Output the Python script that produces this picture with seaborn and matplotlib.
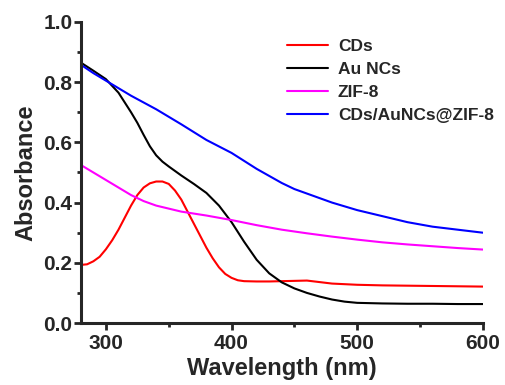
import matplotlib
matplotlib.use("Agg")
import matplotlib.pyplot as plt
import seaborn as sns
import pandas as pd
import numpy as np
from matplotlib.ticker import MultipleLocator

# Data
cds_wl = [280, 285, 290, 295, 300, 305, 310, 315, 320, 325, 330, 335, 340, 345, 350, 355, 360, 365, 370, 375,
          380, 385, 390, 395, 400, 405, 410, 420, 430, 440, 450, 460, 470, 480, 500, 520, 540, 560, 580, 600]
cds_abs = [0.193, 0.195, 0.205, 0.22, 0.245, 0.275, 0.31, 0.35, 0.39, 0.425, 0.45, 0.464, 0.47, 0.47, 0.462, 0.44,
           0.41, 0.37, 0.33, 0.29, 0.25, 0.215, 0.185, 0.163, 0.15, 0.142, 0.139, 0.138, 0.138, 0.139, 0.14, 0.141,
           0.136, 0.131, 0.127, 0.125, 0.124, 0.123, 0.122, 0.121]

au_wl = [280, 290, 300, 310, 320, 325, 330, 335, 340, 345, 350, 360, 370, 380, 390, 400, 410, 420, 430, 440,
         450, 460, 470, 480, 490, 500, 520, 540, 560, 580, 600]
au_abs = [0.865, 0.838, 0.81, 0.765, 0.70, 0.665, 0.625, 0.587, 0.557, 0.536, 0.52, 0.49, 0.462, 0.432, 0.39,
          0.335, 0.27, 0.21, 0.165, 0.135, 0.115, 0.10, 0.088, 0.078, 0.071, 0.067, 0.065, 0.064, 0.064, 0.063,
          0.063]

zif_wl = [280, 290, 300, 310, 320, 330, 340, 350, 360, 380, 400, 420, 440, 460, 480, 500, 520, 540, 560, 580, 600]
zif_abs = [0.525, 0.50, 0.475, 0.45, 0.425, 0.405, 0.39, 0.38, 0.37, 0.357, 0.342, 0.325, 0.31, 0.298, 0.287,
           0.277, 0.268, 0.261, 0.255, 0.249, 0.244]

comp_wl = [280, 290, 300, 310, 320, 340, 360, 380, 400, 420, 440, 450, 460, 480, 500, 520, 540, 560, 580, 600]
comp_abs = [0.858, 0.83, 0.805, 0.78, 0.755, 0.71, 0.66, 0.608, 0.565, 0.512, 0.465, 0.445, 0.43, 0.40, 0.375,
            0.355, 0.335, 0.32, 0.31, 0.30]

labels = ["CDs", "Au NCs", "ZIF-8", "CDs/AuNCs@ZIF-8"]
colors = ["#FF0000", "#000000", "#FF00FF", "#0000FF"]

frames = []
for lab, wl, ab in zip(labels, [cds_wl, au_wl, zif_wl, comp_wl], [cds_abs, au_abs, zif_abs, comp_abs]):
    frames.append(pd.DataFrame({"Wavelength": wl, "Absorbance": ab, "Sample": lab}))
df = pd.concat(frames, ignore_index=True)

sns.set_style("ticks")
plt.rcParams['font.family'] = ['Liberation Sans', 'DejaVu Sans']
plt.rcParams['font.weight'] = 'bold'

fig = plt.figure(figsize=(5.05, 3.85), dpi=100)
ax = fig.add_axes([0.160, 0.161, 0.796, 0.782])

sns.lineplot(data=df, x="Wavelength", y="Absorbance", hue="Sample", hue_order=labels,
             palette=colors, linewidth=1.5, ax=ax, sort=True, estimator=None)

ax.set_xlim(280, 600)
ax.set_ylim(0, 1.0)
ax.xaxis.set_major_locator(MultipleLocator(100))
ax.xaxis.set_minor_locator(MultipleLocator(50))
ax.yaxis.set_major_locator(MultipleLocator(0.2))
ax.yaxis.set_minor_locator(MultipleLocator(0.1))
ax.set_yticks([0.0, 0.2, 0.4, 0.6, 0.8, 1.0])
ax.set_yticklabels(["0.0", "0.2", "0.4", "0.6", "0.8", "1.0"])

for s in ["top", "right"]:
    ax.spines[s].set_visible(False)
for s in ["left", "bottom"]:
    ax.spines[s].set_linewidth(2.2)
ax.tick_params(which="major", length=5, width=2, labelsize=15, direction="out")
ax.tick_params(axis="y", which="major", pad=1)
ax.tick_params(axis="x", which="major", pad=3)
ax.tick_params(which="minor", length=3, width=2, direction="out")
for t in ax.get_xticklabels() + ax.get_yticklabels():
    t.set_fontweight("bold")

ax.set_xlabel("Wavelength (nm)", fontsize=17, fontweight="bold", labelpad=3)
ax.set_ylabel("Absorbance", fontsize=17, fontweight="bold", labelpad=4)

leg = ax.legend(loc="upper left", bbox_to_anchor=(0.496, 0.967), borderaxespad=0, frameon=False,
                fontsize=12.5, handlelength=2.35, handletextpad=0.57, labelspacing=0.45)
for t in leg.get_texts():
    t.set_fontweight("bold")

fig.savefig("out.png", dpi=100)
